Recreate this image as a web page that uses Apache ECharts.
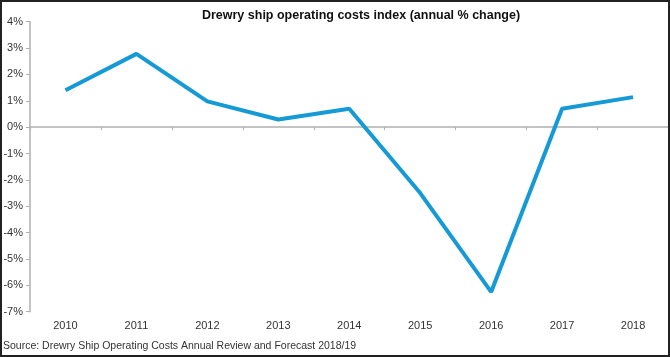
<!DOCTYPE html>
<html>
<head>
<meta charset="utf-8">
<script src="https://cdn.jsdelivr.net/npm/echarts@6/dist/echarts.min.js"></script>
<style>
html,body{margin:0;padding:0;background:#fff;}
#frame{position:absolute;left:0;top:0;width:670px;height:357px;box-sizing:border-box;border:2px solid #222;}
#c{position:absolute;left:0;top:0;width:670px;height:357px;}
</style>
</head>
<body>
<div id="c"></div>
<div id="frame"></div>
<script>
const years = ['2010','2011','2012','2013','2014','2015','2016','2017','2018'];
const changePct = [1.4, 2.78, 0.98, 0.29, 0.7, -2.5, -6.25, 0.7, 1.14];
const titleText = 'Drewry ship operating costs index (annual % change)';
const sourceText = 'Source: Drewry Ship Operating Costs Annual Review and Forecast 2018/19';

const chart = echarts.init(document.getElementById('c'), null, {renderer:'canvas'});
const font = '"Liberation Sans", Arial, sans-serif';
chart.setOption({
  animation:false,
  backgroundColor:'#fff',
  title:[
    {text:titleText, left:356, top:4, textAlign:'center',
     textStyle:{fontFamily:font, fontSize:12.5, fontWeight:'bold', color:'#111'}},
    {text:sourceText, left:-2, top:336,
     textStyle:{fontFamily:font, fontSize:10.5, fontWeight:'normal', color:'#333'}}
  ],
  grid:{left:30, right:1.5, top:21.7, bottom:45.3},
  xAxis:[
    {type:'category', data:years, position:'bottom',
     axisLine:{show:false, onZero:false}, axisTick:{show:false},
     axisLabel:{fontFamily:font, fontSize:11, color:'#333', margin:9}},
    {type:'category', data:years, position:'bottom',
     axisLine:{show:true, onZero:true, lineStyle:{color:'#b0b0b0', width:1.5}},
     axisTick:{show:true, length:3, lineStyle:{color:'#b0b0b0'}},
     axisLabel:{show:false}}
  ],
  yAxis:{type:'value', min:-7, max:4, interval:1,
    axisLine:{show:true, onZero:false, lineStyle:{color:'#b0b0b0', width:1.5}},
    axisTick:{show:true, length:4, lineStyle:{color:'#b0b0b0'}},
    splitLine:{show:false},
    axisLabel:{fontFamily:font, fontSize:11, color:'#333', margin:7, formatter:v=>v+'%'}},
  series:[{type:'line', data:changePct, xAxisIndex:0, symbol:'none',
    lineStyle:{color:'#159ad6', width:4}, z:5}]
});
</script>
</body>
</html>
